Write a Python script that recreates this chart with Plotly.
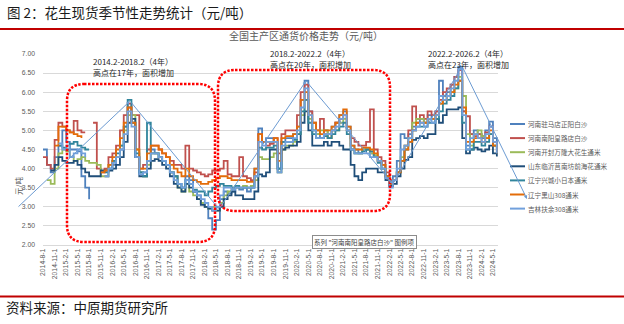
import plotly.graph_objects as go
import pandas as pd

# ---------------- data ----------------
dates = pd.date_range("2014-08-01", periods=119, freq="MS")
tick_dates = pd.date_range("2014-08-01", "2024-05-01", freq="3MS")
tick_labels = [f"{d.year}-{d.month}-{d.day}" for d in tick_dates]

names = ["河南驻马店正阳白沙", "河南南阳皇路店白沙", "河南开封万隆大花生通米",
         "山东临沂莒南坊前海花通米", "辽宁兴城小日本通米", "辽宁黑山308通米", "吉林扶余308通米"]
colors = ["#4F81BD", "#C0504D", "#9BBB59", "#1F4E79", "#31859C", "#E36C09", "#71A0DC"]

zhumadian = [
    4.5, 4.1, 3.9, 4.3, 4.6, 5.0, 4.7, 4.5, 4.5, 4.45,
    3.8, 3.5, 3.2, None, None, None, 3.8, 4.0, 4.1, 4.3,
    4.5, 5.1, 5.6, 5.2, 4.3, 3.9, 3.9, 4.2, 4.5, 4.4,
    4.3, 4.2, 4.1, 3.9, 3.8, 3.6, 3.5, 3.8, 3.7, 3.4,
    3.3, 3.1, 3.0, 2.7, 2.4, 2.65, 3.2, 3.4, 3.35, 3.4,
    3.5, 3.45, 3.5, 3.4, 3.5, 4.0, 5.05, 4.7, 4.8, 4.8,
    4.7, 3.9, 4.7, 4.8, 4.8, 4.9, 5.1, 5.8, 6.3, 5.5,
    5.0, 4.9, 4.8, 5.0, 4.9, 5.1, 5.2, 5.4, 5.5, 5.1,
    4.6, 4.5, 4.4, 4.5, 4.5, 4.4, 4.3, 4.2, 4.1, 3.8,
    3.55, 3.8, 4.2, 4.9, 4.8, 4.9, 5.1, 5.2, 5.3, 5.2,
    5.4, 5.3, 5.5, 6.3, 5.9, 6.0, 6.2, 6.4, 6.67, 5.5,
    4.6, 4.9, 5.0, 4.9, 4.8, 5.0, 5.23, 4.8, 4.5]

nanyang = [
    4.3, 4.1, 4.0, 4.75, 5.2, 5.1, 5.0, 4.95, 5.25, 5.0,
    4.95, 4.95, None, 5.2, 4.0, 3.9, 4.0, 4.3, 4.4, 4.6,
    5.0, 5.4, 5.7, 5.4, 5.4, 4.0, 4.1, 4.5, 4.6, 4.6,
    4.5, 4.4, 4.3, 4.2, 4.1, 4.1, 4.0, 4.6, 4.0, 3.95,
    3.9, 3.85, 3.8, 3.85, 3.95, 3.95, 4.0, 4.2, 3.85, 3.8,
    3.8, 4.3, 3.8, 3.75, 3.7, 3.9, 4.9, 4.7, 4.6, 4.65,
    4.8, 4.4, 4.9, 5.0, 5.0, 5.0, 5.4, 6.0, 6.2, 5.5,
    5.2, 5.0, 5.3, 4.9, 4.8, 5.0, 5.2, 5.3, 5.4, 5.0,
    4.8, 4.7, 4.6, 4.6, 4.7, 5.55, 4.5, 4.3, 4.2, 3.9,
    3.7, 3.7, 3.9, 4.2, 4.6, 5.0, 5.63, 5.3, 5.4, 5.3,
    5.5, 5.4, 5.5, 5.8, 6.0, 6.1, 6.2, 6.4, 6.58, 5.5,
    5.37, 4.9, 4.85, 4.9, 4.85, 4.95, 5.1, 4.7, 4.45]

kaifeng = [
    None, 3.7, 3.6, 4.0, 4.4, 4.5, 4.45, 4.3, 4.2, 4.25,
    4.3, 4.2, 4.15, 4.15, 4.1, 3.8, 3.8, 4.1, 4.2, 4.3,
    4.6, 5.0, 5.4, 5.4, 4.5, 3.9, 3.8, 4.1, 4.4, 4.4,
    4.3, 4.2, 4.1, 3.9, 3.8, 3.5, 3.4, 3.6, 3.4, 3.3,
    3.2, 3.1, 3.0, 2.95, 3.0, 2.9, 3.1, 3.3, 3.4, 3.5,
    3.5, 3.5, 3.55, 3.5, 3.55, 3.7, 4.3, 4.25, 4.25, 4.3,
    4.4, 3.9, 4.5, 4.6, 4.6, 4.7, 4.9, 5.4, 5.8, 5.3,
    5.0, 4.9, 5.0, 5.0, 4.8, 5.0, 5.0, 5.2, 5.3, 5.0,
    4.5, 4.4, 4.4, 4.5, 4.5, 4.4, 4.35, 4.2, 4.0, 3.8,
    3.6, 3.7, 3.9, 4.3, 4.6, 4.8, 5.2, 5.3, 5.3, 5.2,
    5.3, 5.3, 5.4, 5.7, 5.8, 5.9, 6.0, 6.1, 6.4, 5.9,
    4.9, 4.6, 4.9, 5.0, 4.85, 4.8, 4.9, 4.6, 4.4]

linyi = [
    None, None, 3.95, 4.1, 4.3, 4.2, 4.15, 4.15, 4.2, 4.1,
    4.0, 3.9, 3.8, 3.8, 3.8, 3.95, 3.95, 3.95, 4.0, 4.1,
    4.3, 4.7, 5.2, 5.3, 4.3, 3.8, 3.8, 4.0, 4.2, 4.25,
    4.2, 4.1, 4.0, 3.8, 3.6, 3.5, 3.4, 3.6, 3.5, 3.4,
    3.2, 3.05, 3.0, 2.95, 2.9, 2.9, 3.0, 3.2, 3.3, 3.4,
    3.3, 3.3, 3.2, 3.2, 3.2, 3.4, 3.85, 3.8, 3.9, 4.5,
    4.5, 4.0, 4.5, 4.55, 4.6, 4.6, 4.7, 5.2, 5.5, 5.0,
    4.6, 4.6, 4.6, 4.7, 4.6, 4.7, 4.7, 4.6, 4.5, 4.5,
    4.1, 3.8, 3.7, 3.9, 4.0, 4.0, 4.0, 3.9, 3.9, 3.7,
    3.55, 3.6, 3.8, 4.0, 4.23, 4.3, 4.75, 4.8, 4.85, 4.8,
    4.9, 4.9, 5.3, 5.2, 5.4, 5.55, 5.55, 5.55, 5.6, 4.8,
    4.4, 4.5, 4.55, 4.5, 4.45, 4.5, 4.6, 4.4, 4.32]

xingcheng = [
    None, None, None, None, 4.6, 4.55, 4.5, 4.65, 4.7, 4.6,
    4.55, 4.5, 4.5, None, None, None, 3.9, 4.0, 4.2, 4.4,
    4.6, 5.1, 5.8, 5.2, 4.4, 3.9, 3.8, 5.2, 4.4, 4.4,
    4.3, 4.2, 4.1, 3.9, 3.8, 3.6, 3.5, 3.7, 3.6, 3.45,
    3.4, 3.4, 3.3, 3.4, 3.5, 3.55, 3.6, 3.55, 3.55, 3.5,
    3.55, 3.5, 3.5, 3.5, 3.5, 3.8, 4.55, 4.5, 4.55, 4.55,
    4.6, 4.0, 4.7, 4.7, 4.7, 4.75, 4.9, 5.5, 5.8, 5.2,
    4.9, 4.8, 4.8, 4.85, 4.8, 4.9, 5.0, 5.1, 5.2, 4.9,
    4.5, 4.4, 4.4, 4.45, 4.5, 4.45, 4.3, 4.15, 4.0, 3.8,
    3.6, 3.7, 3.9, 4.2, 4.5, 4.7, 5.0, 5.1, 5.1, 5.1,
    5.2, 5.2, 5.3, 5.5, 5.7, 5.8, 5.9, 6.1, 6.3, 5.2,
    4.5, 4.5, 4.7, 4.7, 4.6, 4.7, 4.9, 4.6, 4.4]

heishan = [
    None, None, None, 4.6, 5.1, 5.1, 5.0, 4.95, 4.9, 4.85,
    4.8, None, None, None, None, 3.9, 3.95, 4.1, 4.3, 4.5,
    4.8, 5.2, 5.6, 5.2, 4.5, 4.0, 4.0, 4.4, 4.6, 4.6,
    4.5, 4.4, 4.3, 4.1, 4.0, 3.9, 3.8, 4.0, 3.8, 3.7,
    3.65, 3.6, 3.6, 3.65, 3.7, 3.75, 3.8, 3.8, 3.75, 3.7,
    3.7, 3.7, 3.7, 3.65, 3.65, 4.0, 4.9, 4.7, 4.7, 4.7,
    4.8, 4.2, 4.8, 4.85, 4.85, 4.9, 5.1, 5.8, 6.0, 5.4,
    5.2, 5.0, 4.9, 5.0, 5.0, 5.1, 5.2, 5.4, 5.55, 5.1,
    4.6, 4.5, 4.5, 4.55, 4.55, 4.5, 4.4, 4.2, 4.1, 3.8,
    3.6, 3.7, 3.9, 4.2, 4.5, 4.7, 5.0, 5.2, 5.2, 5.2,
    5.3, 5.3, 5.4, 5.7, 5.8, 5.9, 6.0, 6.2, 6.3, 5.6,
    4.7, 4.7, 4.8, 4.8, 4.7, 4.8, 5.0, 4.6, 4.4]

fuyu = [
    None, None, None, None, 4.66, 4.5, 4.6, 4.3, 4.4, 4.5,
    4.4, 4.3, None, None, None, None, 3.8, 4.0, 4.15, 4.3,
    4.5, 4.9, 5.5, 5.1, 4.3, 3.85, 3.9, 4.2, 4.4, 4.4,
    4.3, 4.2, 4.1, 3.9, 3.7, 3.6, 3.5, 3.7, 3.6, 3.4,
    3.3, 3.2, 3.1, 3.0, 2.9, 3.0, 3.3, 3.5, 3.5, 3.45,
    3.5, 3.5, 3.5, 3.5, 3.5, 3.8, 4.7, 4.6, 4.7, 4.7,
    4.7, 3.9, 4.6, 4.7, 4.7, 4.8, 5.0, 5.6, 6.1, 5.4,
    5.0, 4.8, 4.8, 4.9, 4.9, 5.0, 5.1, 5.3, 5.4, 5.0,
    4.5, 4.4, 4.4, 4.4, 4.4, 4.3, 4.3, 4.2, 4.0, 3.75,
    3.5, 3.7, 4.0, 4.5, 4.6, 4.8, 5.0, 5.1, 5.2, 5.1,
    5.3, 5.2, 5.4, 5.9, 5.8, 5.9, 6.1, 6.3, 6.6, 5.4,
    4.5, 4.8, 4.9, 4.8, 4.7, 4.9, 5.1, 4.7, 4.4]

series = [zhumadian, nanyang, kaifeng, linyi, xingcheng, heishan, fuyu]

# ---------------- layout helpers ----------------
W, H = 624, 324
L, R, T, B = 43, 126, 54, 79
PW = W - L - R
PH = H - T - B


def px(x):
    return (x - L) / PW


def py(y):
    return (H - B - y) / PH


CJK = "Noto Sans CJK SC"
GRAY = "#595959"

fig = go.Figure()
for name, vals, color in zip(names, series, colors):
    fig.add_trace(go.Scatter(x=dates, y=vals, mode="lines", name=name,
                             line=dict(color=color, width=1.8, shape="hv"),
                             connectgaps=False, showlegend=False,
                             hoverinfo="skip"))

shapes = []
annotations = []

# red rules of the page
for yy in (29, 296.5):
    shapes.append(dict(type="line", xref="paper", yref="paper",
                       x0=px(0), x1=px(624), y0=py(yy), y1=py(yy),
                       line=dict(color="#C00000", width=2)))


def rounded_rect(x0, y0, x1, y1, r):
    pts = [
        ("M", [(x0 + r, y0)]),
        ("L", [(x1 - r, y0)]),
        ("Q", [(x1, y0), (x1, y0 + r)]),
        ("L", [(x1, y1 - r)]),
        ("Q", [(x1, y1), (x1 - r, y1)]),
        ("L", [(x0 + r, y1)]),
        ("Q", [(x0, y1), (x0, y1 - r)]),
        ("L", [(x0, y0 + r)]),
        ("Q", [(x0, y0), (x0 + r, y0)]),
    ]
    s = ""
    for cmd, ps in pts:
        s += cmd + " ".join(f"{px(a):.5f},{py(b):.5f}" for a, b in ps)
    return s + "Z"


for box in [(67, 84, 215, 242), (218, 70, 390, 211)]:
    shapes.append(dict(type="path", xref="paper", yref="paper",
                       path=rounded_rect(*box, 17),
                       line=dict(color="#FF0000", width=2.5, dash="2.5px,1.5px")))

# blue zig-zag arrows
zig = [(17, 208), (130, 101), (219, 209), (306, 81), (393, 184), (462, 66), (527, 199)]
for (xa, ya), (xb, yb) in zip(zig[:-1], zig[1:]):
    annotations.append(dict(xref="paper", yref="paper", x=px(xb), y=py(yb),
                            ax=xa - xb, ay=ya - yb, text="", showarrow=True,
                            arrowhead=2, arrowsize=0.7, arrowwidth=1,
                            arrowcolor="#6C9BD2", standoff=0, startstandoff=0))

# manual legend
for i, (name, color) in enumerate(zip(names, colors)):
    yy = 124 + i * 14.1
    shapes.append(dict(type="line", xref="paper", yref="paper",
                       x0=px(510), x1=px(525), y0=py(yy), y1=py(yy),
                       line=dict(color=color, width=2)))
    annotations.append(dict(xref="paper", yref="paper", x=px(526), y=py(yy),
                            xanchor="left", yanchor="middle", text=name,
                            showarrow=False,
                            font=dict(family=CJK, size=6.6, color=GRAY)))


def label(text, x, y, size, color="#000000", xanchor="left", angle=0, family=CJK, **kw):
    annotations.append(dict(xref="paper", yref="paper", x=px(x), y=py(y),
                            xanchor=xanchor, yanchor="middle", text=text,
                            showarrow=False, textangle=angle,
                            font=dict(family=family, size=size, color=color), **kw))


label("图 2：花生现货季节性走势统计（元/吨）", 5, 12, 13.5, color="#1a1a1a")
label("资料来源：中原期货研究所", 4, 307, 13.5, color="#1a1a1a")
label("全国主产区通货价格走势（元/吨）", 306, 35.5, 10, color=GRAY, xanchor="center")
label("元/吨", 18, 186, 7.5, color=GRAY, xanchor="center", angle=-90)

label("2014.2-2018.2（4年）", 91, 61, 8, color="#262626")
label("高点在17年，面积增加", 91, 72.5, 8, color="#262626")
label("2018.2-2022.2（4年）", 268, 53, 8, color="#262626")
label("高点在20年，面积增加", 268, 64.5, 8, color="#262626")
label("2022.2-2026.2（4年）", 426, 53, 8, color="#262626")
label("高点在23年，面积增加", 426, 64.5, 8, color="#262626")

label('系列 "河南南阳皇路店白沙" 图例项', 364, 242, 6.5, color="#404040",
      xanchor="center", bgcolor="#FFFFFF", bordercolor="#8C8C8C",
      borderwidth=1, borderpad=1)

fig.update_layout(
    width=W, height=H,
    margin=dict(l=L, r=R, t=T, b=B, autoexpand=False),
    paper_bgcolor="white", plot_bgcolor="white",
    showlegend=False,
    shapes=shapes, annotations=annotations,
    xaxis=dict(type="date", range=["2014-08-01", "2024-06-10"],
               tickmode="array", tickvals=list(tick_dates), ticktext=tick_labels,
               tickangle=-90, ticks="", showgrid=False, zeroline=False,
               showline=True, linecolor="#D9D9D9", linewidth=1,
               tickfont=dict(family="Arial", size=6.8, color=GRAY)),
    yaxis=dict(range=[2, 7], tick0=2, dtick=0.5, tickformat=".2f",
               ticks="", showgrid=True, gridcolor="#D9D9D9", gridwidth=1,
               zeroline=False, showline=False, ticklabelstandoff=7,
               tickfont=dict(family="Arial", size=6.8, color=GRAY)),
)

fig.write_html("out.html")
